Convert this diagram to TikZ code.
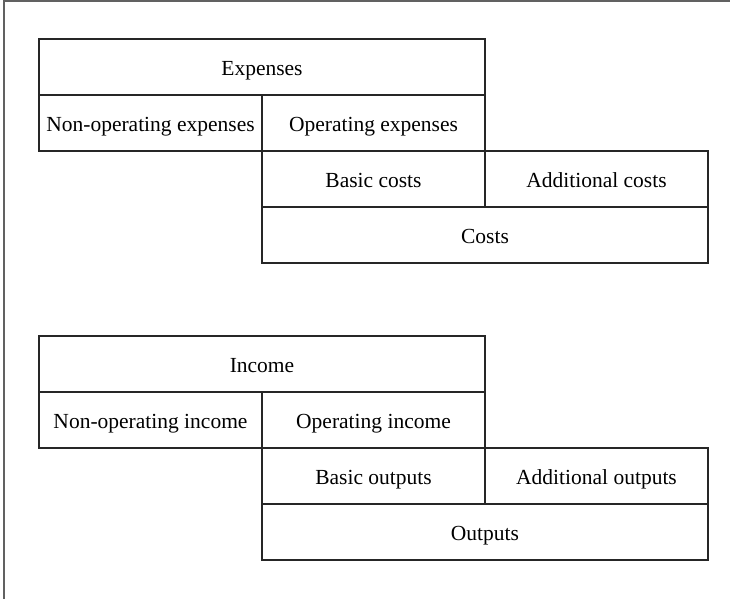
\documentclass[tikz,border=0pt]{standalone}
\usepackage{fontspec}
\setmainfont{Liberation Serif}
\begin{document}
\begin{tikzpicture}[x=1pt,y=-1pt,
  cell/.style={draw=black!85, line width=1.1pt, minimum height=56pt, inner sep=0pt, text height=17.5pt, text depth=0pt, font=\fontsize{21.5}{24}\selectfont},
  half/.style={cell, minimum width=223pt},
  full/.style={cell, minimum width=446pt}]
\useasboundingbox (0,0) rectangle (730,599);
\draw[line width=2pt, draw=black!62] (730,1.5) -- (4,1.5) -- (4,599);
\foreach \dy/\a/\b/\c/\d/\e/\f/\t in {0/Expenses/Non-operating expenses/Operating expenses/Basic costs/Additional costs/Costs/e, 297/Income/Non-operating income/Operating income/Basic outputs/Additional outputs/Outputs/i}{
  \node[full] (top\t) at (262,67+\dy) {\a};
  \node[half] (non\t) at (150.5,123+\dy) {\b};
  \node[half] (op\t) at (373.5,123+\dy) {\c};
  \node[half] (bas\t) at (373.5,179+\dy) {\d};
  \node[half] (add\t) at (596.5,179+\dy) {\e};
  \node[full] (sum\t) at (485,235+\dy) {\f};
}
\end{tikzpicture}
\end{document}
